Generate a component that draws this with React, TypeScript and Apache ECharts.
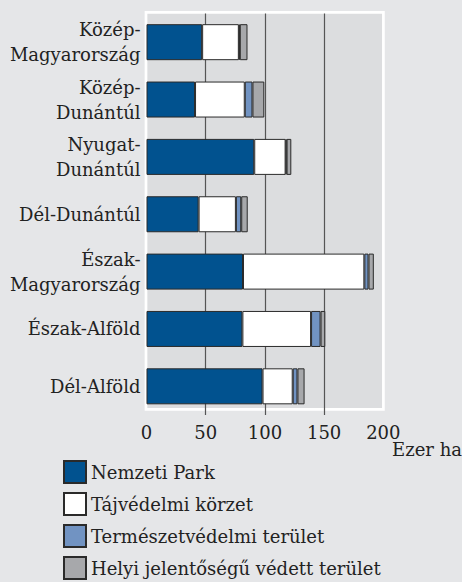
import React, { useEffect, useRef } from "react";
import * as echarts from "echarts";

const categories = [
  "Közép-\nMagyarország",
  "Közép-\nDunántúl",
  "Nyugat-\nDunántúl",
  "Dél-Dunántúl",
  "Észak-\nMagyarország",
  "Észak-Alföld",
  "Dél-Alföld",
];
const nemzetiPark = [47, 41, 91, 44, 81.5, 81, 98];
const tajvedelmi = [31, 42, 26.5, 31.5, 102.5, 58, 25.5];
const termeszetvedelmi = [0.8, 6.5, 0.8, 4.5, 3.5, 8, 4];
const helyi = [6.5, 10, 4, 5.5, 4.5, 4, 6];
const seriesNames = [
  "Nemzeti Park",
  "Tájvédelmi körzet",
  "Természetvédelmi terület",
  "Helyi jelentőségű védett terület",
];
const seriesColors = ["#01528f", "#ffffff", "#7193c2", "#a7a8ab"];
const xTicks = [0, 50, 100, 150, 200];
const unitLabel = "Ezer ha";

const FONT = "DejaVu Serif";
const TEXT = "#222222";

export default function App() {
  const ref = useRef<HTMLDivElement>(null);
  useEffect(() => {
    if (!ref.current) return;
    const chart = echarts.init(ref.current, null, { renderer: "svg" });
    const values = [nemzetiPark, tajvedelmi, termeszetvedelmi, helyi];
    chart.setOption({
      animation: false,
      backgroundColor: "#e5e6e8",
      textStyle: { fontFamily: FONT, color: TEXT },
      grid: [
        {
          left: 146,
          top: 12.4,
          width: 237.4,
          height: 397,
          show: true,
          backgroundColor: "#dcdddf",
          borderColor: "#ffffff",
          borderWidth: 2.7,
          containLabel: false,
        },
        {
          left: 146.5,
          top: 13.5,
          width: 236.8,
          height: 401.5,
          containLabel: false,
        },
      ],
      xAxis: [
        { gridIndex: 0, type: "value", show: false, min: 0, max: 1 },
        {
          gridIndex: 1,
          type: "value",
          min: xTicks[0],
          max: xTicks[xTicks.length - 1],
          interval: 50,
          axisLine: { show: false },
          axisTick: { show: false },
          splitLine: {
            show: true,
            showMinLine: false,
            showMaxLine: false,
            lineStyle: { color: "#555", width: 1.2 },
          },
          axisLabel: {
            margin: 8,
            fontSize: 18,
            fontFamily: FONT,
            color: TEXT,
          },
        },
      ],
      yAxis: [
        { gridIndex: 0, type: "category", show: false, data: ["a"] },
        {
          gridIndex: 1,
          type: "category",
          inverse: true,
          data: categories,
          axisLine: { show: false },
          axisTick: { show: false },
          splitLine: { show: false },
          axisLabel: { show: false },
        },
      ],
      legend: {
        orient: "vertical",
        left: 63,
        top: 460,
        padding: 0,
        height: 140,
        itemWidth: 22,
        itemHeight: 22,
        itemGap: 8,
        icon: "rect",
        textStyle: { fontSize: 18, fontFamily: FONT, color: TEXT },
        data: seriesNames,
      },
      graphic: [
        {
          type: "text",
          right: 0,
          top: 440,
          style: {
            text: unitLabel,
            font: `18px "${FONT}"`,
            fill: TEXT,
          },
        },
      ],
      series: seriesNames.map((name, i) => ({
        name,
        type: "bar",
        stack: "total",
        xAxisIndex: 1,
        yAxisIndex: 1,
        barWidth: 36,
        data: values[i],
        itemStyle: {
          color: seriesColors[i],
          borderColor: "#2a2a2a",
          borderWidth: 1,
        },
        label:
          i === 0
            ? {
                show: true,
                position: "left",
                distance: 6,
                align: "right",
                verticalAlign: "middle",
                formatter: (p: any) => categories[p.dataIndex],
                fontSize: 18,
                lineHeight: 25,
                fontFamily: FONT,
                color: TEXT,
              }
            : { show: false },
      })),
    });
    return () => chart.dispose();
  }, []);
  return (
    <div
      ref={ref}
      style={{ position: "fixed", left: 0, top: 0, width: 462, height: 582 }}
    />
  );
}
